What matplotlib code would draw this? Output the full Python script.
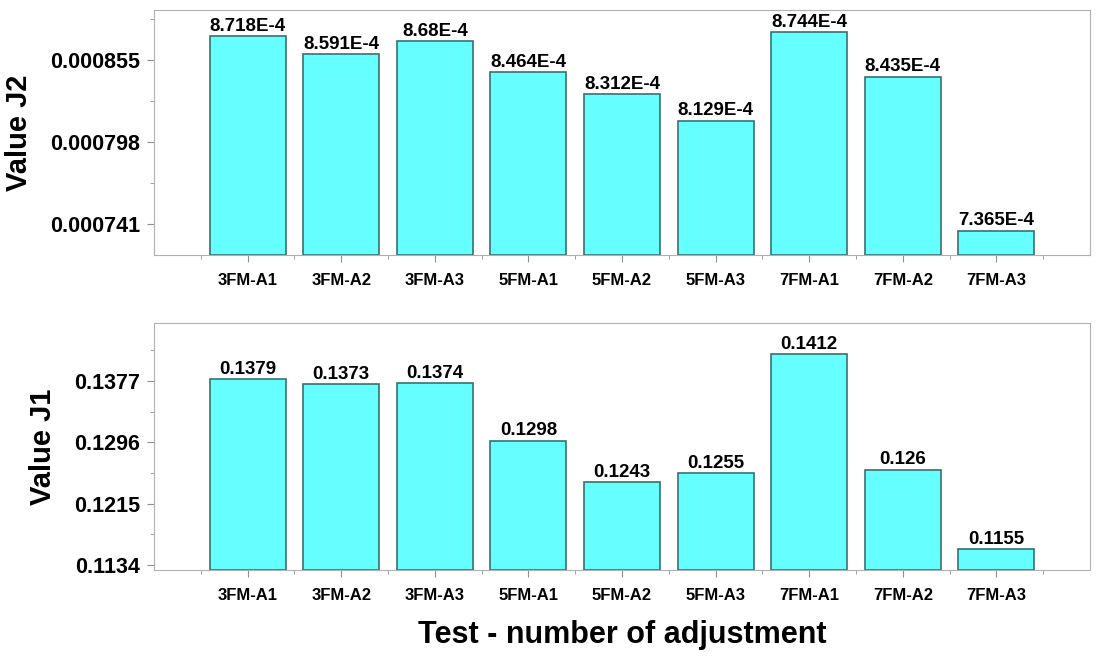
import matplotlib
matplotlib.use("Agg")
import matplotlib.pyplot as plt
from matplotlib.ticker import FixedLocator

plt.rcParams['font.family'] = ['Liberation Sans', 'DejaVu Sans']
plt.rcParams['font.weight'] = 'bold'

categories = ["3FM-A1", "3FM-A2", "3FM-A3", "5FM-A1", "5FM-A2", "5FM-A3", "7FM-A1", "7FM-A2", "7FM-A3"]
j2_values = [8.718e-4, 8.591e-4, 8.68e-4, 8.464e-4, 8.312e-4, 8.129e-4, 8.744e-4, 8.435e-4, 7.365e-4]
j2_labels = ["8.718E-4", "8.591E-4", "8.68E-4", "8.464E-4", "8.312E-4", "8.129E-4", "8.744E-4", "8.435E-4", "7.365E-4"]
j2_ticks = [0.000741, 0.000798, 0.000855]
j1_values = [0.1379, 0.1373, 0.1374, 0.1298, 0.1243, 0.1255, 0.1412, 0.126, 0.1155]
j1_labels = ["0.1379", "0.1373", "0.1374", "0.1298", "0.1243", "0.1255", "0.1412", "0.126", "0.1155"]
j1_ticks = [0.1134, 0.1215, 0.1296, 0.1377]

fig = plt.figure(figsize=(11.06, 6.57), dpi=100)
W, H = 1106, 657
ax2 = fig.add_axes([154/W, 1-255/H, 936/W, 245/H])
ax1 = fig.add_axes([154/W, 1-570/H, 936/W, 247/H])

def draw(ax, vals, labels, ticks, ylim, fmt, ylabel):
    x = list(range(1, len(categories)+1))
    ax.bar(x, [v - ylim[0] for v in vals], bottom=ylim[0], width=0.81,
           color='#66FFFF', edgecolor='#3a6f6f', linewidth=1.2)
    for xi, v, l in zip(x, vals, labels):
        ax.annotate(l, (xi, v), xytext=(0, 1), textcoords='offset points',
                    ha='center', va='bottom', fontsize=13.5, fontweight='bold')
    ax.set_xlim(0, 10)
    ax.set_ylim(*ylim)
    ax.set_xticks(x)
    ax.set_xticklabels(categories, fontsize=12, fontweight='bold')
    ax.xaxis.set_minor_locator(FixedLocator([i + 0.5 for i in range(0, 10)]))
    ax.set_yticks(ticks)
    ax.set_yticklabels([fmt.format(t) for t in ticks], fontsize=15.5, fontweight='bold')
    step = ticks[1] - ticks[0]
    ax.yaxis.set_minor_locator(FixedLocator([t + step/2 for t in ticks] + [ticks[0] - step/2]))
    for s in ax.spines.values():
        s.set_color('#b0b0b0')
    ax.tick_params(axis='both', which='both', color='#909090', direction='out')
    ax.tick_params(axis='x', which='major', length=5, pad=8)
    ax.tick_params(axis='x', which='minor', length=3)
    ax.tick_params(axis='y', which='major', length=5, pad=5)
    ax.tick_params(axis='y', which='minor', length=3)
    ax.set_ylabel(ylabel, fontsize=21, fontweight='bold', labelpad=12)

draw(ax2, j2_values, j2_labels, j2_ticks, (0.0007195, 0.0008898), "{:.6f}", "Value J2")
draw(ax1, j1_values, j1_labels, j1_ticks, (0.11274, 0.14536), "{:.4f}", "Value J1")
ax1.set_xlabel("Test - number of adjustment", fontsize=22, fontweight='bold', labelpad=12)

fig.savefig("out.png", dpi=100)
